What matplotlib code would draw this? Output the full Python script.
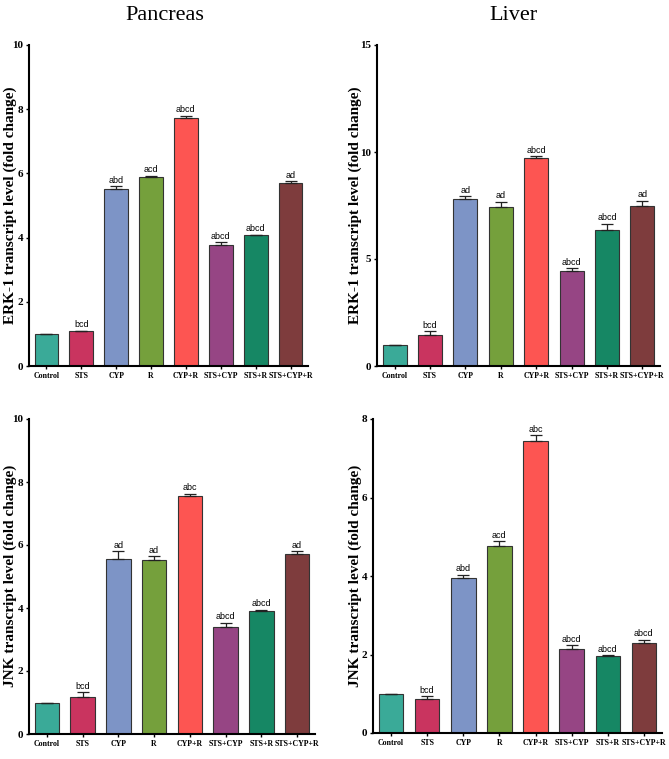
import matplotlib
matplotlib.use("Agg")
import matplotlib.pyplot as plt
from matplotlib import font_manager
import numpy as np

groups = ["Control", "STS", "CYP", "R", "CYP+R", "STS+CYP", "STS+R", "STS+CYP+R"]
colours = ["#3aaa98", "#c9345f", "#7d94c6", "#75a03c", "#fd5552", "#964584", "#168764", "#7e3c3d"]

# Pancreas ERK-1
panc_erk = [1.0, 1.08, 5.50, 5.89, 7.72, 3.76, 4.07, 5.69]
panc_erk_err = [0.0, 0.02, 0.10, 0.04, 0.08, 0.09, 0.02, 0.06]
panc_erk_sig = ["", "bcd", "abd", "acd", "abcd", "abcd", "abcd", "ad"]

# Liver ERK-1
liver_erk = [1.0, 1.45, 7.80, 7.44, 9.73, 4.45, 6.35, 7.50]
liver_erk_err = [0.0, 0.19, 0.14, 0.23, 0.06, 0.11, 0.30, 0.23]
liver_erk_sig = ["", "bcd", "ad", "ad", "abcd", "abcd", "abcd", "ad"]

# Pancreas JNK
panc_jnk = [1.0, 1.16, 5.56, 5.53, 7.55, 3.41, 3.90, 5.71]
panc_jnk_err = [0.0, 0.16, 0.24, 0.12, 0.08, 0.12, 0.05, 0.09]
panc_jnk_sig = ["", "bcd", "ad", "ad", "abc", "abcd", "abcd", "ad"]

# Liver JNK
liver_jnk = [1.0, 0.87, 3.95, 4.76, 7.43, 2.14, 1.95, 2.29]
liver_jnk_err = [0.0, 0.06, 0.08, 0.12, 0.16, 0.09, 0.03, 0.09]
liver_jnk_sig = ["", "bcd", "abd", "acd", "abc", "abcd", "abcd", "abcd"]

installed = {f.name for f in font_manager.fontManager.ttflist}
SERIF = ["Liberation Serif", "DejaVu Serif"]
if "Liberation Sans Narrow" in installed:
    NARROW = ["Liberation Sans Narrow", "DejaVu Sans"]
    sig_size = 7.5
else:
    NARROW = ["Liberation Sans", "DejaVu Sans"]
    sig_size = 6.5

tick_size = 5.7


def bar_panel(ax, values, errs, sig, ymax, ystep):
    x = np.arange(len(groups))
    lower = np.zeros(len(values))
    ax.bar(x, values, width=0.68, color=colours, edgecolor="#333333", linewidth=0.8, zorder=2)
    ax.errorbar(x, values, yerr=[lower, errs], fmt="none", ecolor="#222222",
                elinewidth=0.9, capsize=4, capthick=0.9, zorder=3)
    for xi, v, e, s in zip(x, values, errs, sig):
        if s:
            ax.annotate(s, (xi, v + e), xytext=(0, 1), textcoords="offset points",
                        ha="center", va="bottom", fontsize=sig_size, family=NARROW)
    ax.set_xlim(-0.5, 7.5)
    ax.set_ylim(0, ymax)
    ax.set_yticks(np.arange(0, ymax + 0.01, ystep))
    ax.set_xticks(x, groups)
    for s in ["top", "right"]:
        ax.spines[s].set_visible(False)
    for s in ["left", "bottom"]:
        ax.spines[s].set_linewidth(1.5)
    ax.tick_params(axis="both", length=2.5, width=1, pad=1.5)
    for lab in ax.get_xticklabels():
        lab.set_family(SERIF)
        lab.set_fontweight("bold")
        lab.set_fontsize(tick_size)
    for lab in ax.get_yticklabels():
        lab.set_family(SERIF)
        lab.set_fontweight("bold")
        lab.set_fontsize(8)
    return ax


fig = plt.figure(figsize=(6.69, 7.59), dpi=100)

ax1 = fig.add_axes([29 / 669, 393 / 759, 279 / 669, 321 / 759])
bar_panel(ax1, panc_erk, panc_erk_err, panc_erk_sig, 10, 2)
ax2 = fig.add_axes([377 / 669, 393 / 759, 283 / 669, 321 / 759])
bar_panel(ax2, liver_erk, liver_erk_err, liver_erk_sig, 15, 5)
ax3 = fig.add_axes([29 / 669, 25 / 759, 286 / 669, 315 / 759])
bar_panel(ax3, panc_jnk, panc_jnk_err, panc_jnk_sig, 10, 2)
ax4 = fig.add_axes([373 / 669, 26 / 759, 289 / 669, 314 / 759])
bar_panel(ax4, liver_jnk, liver_jnk_err, liver_jnk_sig, 8, 2)

# y labels
ylab_kw = dict(rotation=90, ha="center", va="center", fontsize=11, fontweight="bold", family=SERIF)
fig.text(10 / 669, 1 - 205 / 759, "ERK-1 transcript level (fold change)", **ylab_kw)
fig.text(355 / 669, 1 - 205 / 759, "ERK-1 transcript level (fold change)", **ylab_kw)
fig.text(10 / 669, 1 - 576 / 759, "JNK transcript level (fold change)", **ylab_kw)
fig.text(355 / 669, 1 - 576 / 759, "JNK transcript level (fold change)", **ylab_kw)

# column titles
fig.text(165 / 669, 1 - 15 / 759, "Pancreas", ha="center", va="center", fontsize=16, family=SERIF)
fig.text(513 / 669, 1 - 15 / 759, "Liver", ha="center", va="center", fontsize=16, family=SERIF)

fig.savefig("out.png", dpi=100)
